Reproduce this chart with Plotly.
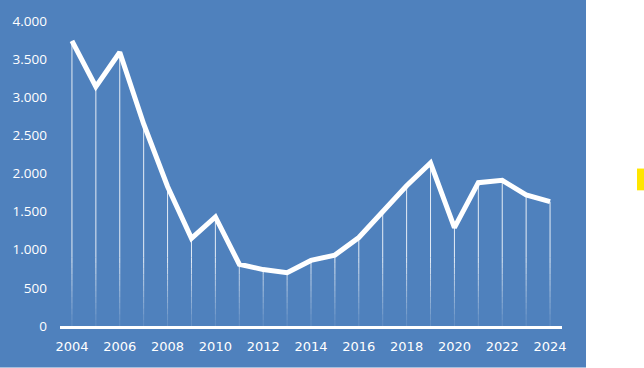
import plotly.graph_objects as go

years = list(range(2004, 2025))
values = [3740, 3140, 3590, 2650, 1830, 1150, 1430, 810, 740, 700, 860, 930,
          1160, 1510, 1840, 2140, 1290, 1880, 1910, 1720, 1630]
y_ticks = [0, 500, 1000, 1500, 2000, 2500, 3000, 3500, 4000]
x_ticks = list(range(2004, 2025, 2))

BLUE = "#4F81BD"
fig = go.Figure()

# drop lines: solid upper part, fading lower part
fade_top = 900
steps = 12
xs, ys = [], []
for x, v in zip(years, values):
    if v > fade_top:
        xs += [x, x, None]
        ys += [fade_top, v, None]
fig.add_trace(go.Scatter(x=xs, y=ys, mode="lines",
                         line=dict(color="rgba(255,255,255,0.85)", width=1),
                         hoverinfo="skip", showlegend=False))
for i in range(steps):
    lo = fade_top * i / steps
    hi = fade_top * (i + 1) / steps
    a = 0.05 + 0.8 * (i + 1) / steps
    sx, sy = [], []
    for x, v in zip(years, values):
        if v > lo:
            sx += [x, x, None]
            sy += [lo, min(hi, v), None]
    fig.add_trace(go.Scatter(x=sx, y=sy, mode="lines",
                             line=dict(color=f"rgba(255,255,255,{a:.2f})", width=1),
                             hoverinfo="skip", showlegend=False))

fig.add_trace(go.Scatter(x=years, y=values, mode="lines",
                         line=dict(color="white", width=5),
                         showlegend=False))

fig.add_shape(type="rect", xref="paper", yref="paper",
              x0=-60/502, x1=(586-60)/502, y0=-42/308, y1=(368-18)/308,
              fillcolor=BLUE, line_width=0, layer="below")
fig.add_shape(type="rect", xref="paper", yref="paper",
              x0=(637-60)/502, x1=(644-60)/502,
              y0=(326-189)/308, y1=(326-167)/308,
              fillcolor="#FFE600", line_width=0, layer="below")

fig.update_layout(
    width=644, height=368,
    margin=dict(l=60, r=82, t=18, b=42),
    paper_bgcolor="white", plot_bgcolor="rgba(0,0,0,0)",
    separators=",.",
    showlegend=False,
    xaxis=dict(range=[2003.5, 2024.5], tickvals=x_ticks, showgrid=False,
               zeroline=False, showline=True, linecolor="white", linewidth=3,
               ticks="", tickfont=dict(family="DejaVu Sans", size=13, color="white"),
               ticklabelstandoff=6),
    yaxis=dict(range=[0, 4000], tickvals=y_ticks, tickformat=",d",
               showgrid=False, zeroline=False, showline=False, ticks="",
               tickfont=dict(family="Open Sans", size=13.5, color="white"),
               ticklabelstandoff=12),
)
fig.write_html("out.html")
